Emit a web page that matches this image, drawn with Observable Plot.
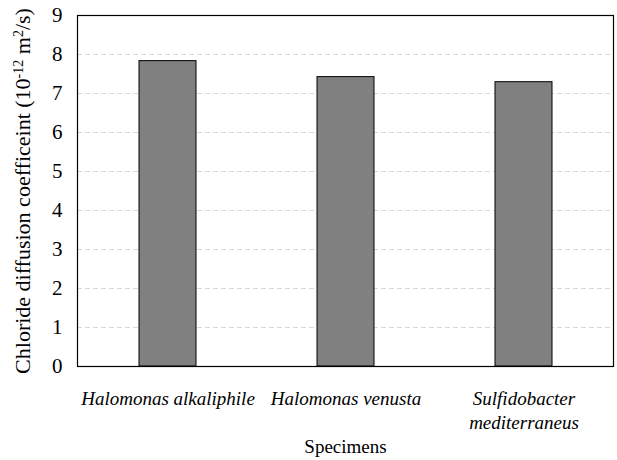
<!DOCTYPE html>
<html>
<head>
<meta charset="utf-8">
<script src="https://cdn.jsdelivr.net/npm/d3@7"></script>
<script src="https://cdn.jsdelivr.net/npm/@observablehq/plot@0.6"></script>
<style>
  html, body { margin: 0; padding: 0; background: #fff; }
  #chart, #chart svg, #chart text, #chart tspan { font-family: "Liberation Serif", "Times New Roman", Tinos, serif; }
</style>
</head>
<body>
<div id="chart"></div>
<script>
const specimens = ["Halomonas alkaliphile", "Halomonas venusta", "Sulfidobacter mediterraneus"];
const specimenLabels = ["Halomonas alkaliphile", "Halomonas venusta", "Sulfidobacter\nmediterraneus"];
const coefficients = [7.83, 7.42, 7.29];
const yTicks = [0, 1, 2, 3, 4, 5, 6, 7, 8, 9];
const gridTicks = [1, 2, 3, 4, 5, 6, 7, 8];
const xTitle = "Specimens";
const yTitleParts = [["Chloride diffusion coefficeint (10", 0], ["-12", 1], [" m", 0], ["2", 1], ["/s)", 0]];

const data = specimens.map((s, i) => ({specimen: s, value: coefficients[i]}));
const labelOf = new Map(specimens.map((s, i) => [s, specimenLabels[i]]));

const font = "Liberation Serif";
const fontList = "Liberation Serif, Times New Roman, Tinos, serif";

const chart = Plot.plot({
  width: 617,
  height: 460,
  marginLeft: 77,
  marginTop: 15,
  marginRight: 4,
  marginBottom: 94,
  x: {domain: specimens, paddingInner: 0.68, paddingOuter: 0.34, label: null},
  y: {domain: [0, 9], label: null},
  marks: [
    Plot.gridY(gridTicks, {stroke: "#d9d9d9", strokeOpacity: 1, strokeDasharray: "5,3", strokeWidth: 1}),
    Plot.barY(data, {x: "specimen", y: "value", fill: "#808080", stroke: "#000", strokeWidth: 1}),
    Plot.frame({stroke: "#000", strokeWidth: 1.2}),
    Plot.axisY(yTicks, {tickSize: 0, tickPadding: 15, fontSize: 21, fontFamily: font, fill: "#000", label: null, tickFormat: d => String(d)}),
    Plot.axisX({tickSize: 0, tickPadding: 21, fontSize: 19, fontFamily: font, fontStyle: "italic", fill: "#000", lineHeight: 1.29, label: null, tickFormat: d => labelOf.get(d)}),
    Plot.text([xTitle], {frameAnchor: "bottom", lineAnchor: "middle", dy: 80, fontSize: 19, fontFamily: font, fill: "#000", text: d => d}),
    Plot.text(["ytitle"], {frameAnchor: "left", textAnchor: "middle", lineAnchor: "middle", dx: -55, rotate: -90, fontSize: 22, fontFamily: font, fill: "#000", text: d => d})
  ]
});

chart.setAttribute("font-family", fontList);
document.getElementById("chart").appendChild(chart);

// Y title with real superscripts
const t = d3.select(chart).selectAll("text").filter(function() { return this.textContent === "ytitle"; });
t.text(null);
yTitleParts.forEach(([s, sup]) => {
  const ts = t.append("tspan").text(s);
  if (sup) ts.attr("baseline-shift", "super").attr("font-size", 14);
});

// Put the serif family directly on every text element as well
d3.select(chart).selectAll("text, tspan").attr("font-family", fontList);
</script>
</body>
</html>
